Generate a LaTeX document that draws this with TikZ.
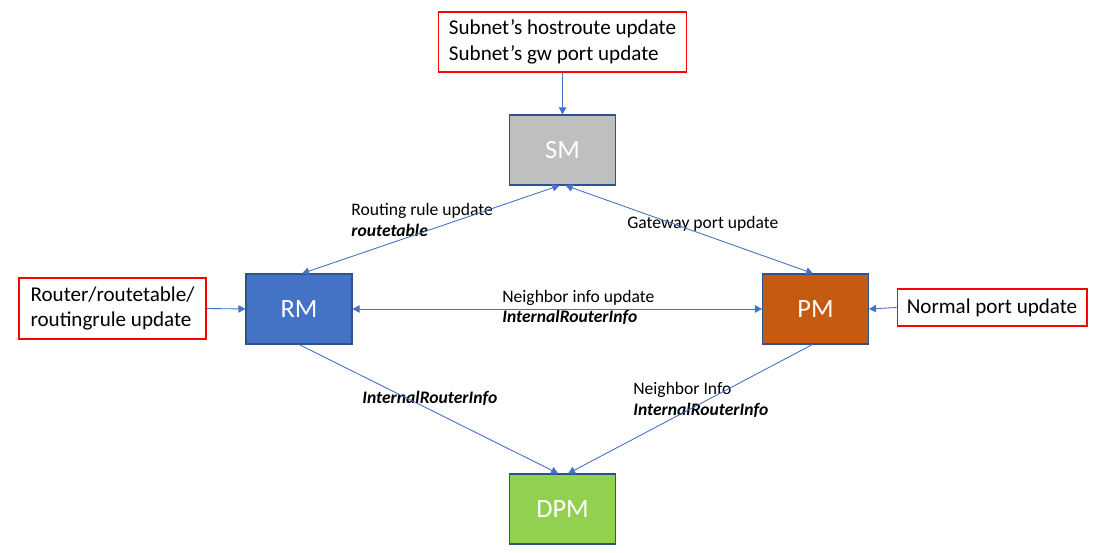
\documentclass[tikz,border=0pt]{standalone}
\usepackage{fontspec}
\setmainfont{Carlito}
\usetikzlibrary{arrows.meta}
\definecolor{flowblue}{HTML}{4472C4}
\definecolor{boxedge}{HTML}{2F528F}
\definecolor{smgray}{HTML}{BFBFBF}
\definecolor{rmblue}{HTML}{4472C4}
\definecolor{pmorange}{HTML}{C55A11}
\definecolor{dpmgreen}{HTML}{92D050}
\definecolor{eventred}{HTML}{FF0000}

\begin{document}
\begin{tikzpicture}[x=0.02cm,y=-0.02cm]
\tikzstyle{manager}=[rectangle, draw=boxedge, line width=.6pt, minimum width=2.12cm, minimum height=1.4cm, text=white, font=\fontsize{15}{16}\selectfont];
\tikzstyle{event}=[rectangle, draw=eventred, line width=.6pt, fill=white, align=left, font=\fontsize{12}{14.4}\selectfont];
\tikzstyle{flow_label}=[inner sep=0, anchor=west, align=left, font=\fontsize{10}{11.5}\selectfont];
\tikzstyle{flow}=[draw, color=flowblue, line width=.5pt, -{Triangle[length=4pt,width=4.2pt]}];
\tikzstyle{flow_both}=[flow, {Triangle[length=4pt,width=4.2pt]}-{Triangle[length=4pt,width=4.2pt]}];
\useasboundingbox (0,0) rectangle (1097,553);
\coordinate (sm_pos) at (562.5,150);
\coordinate (rm_pos) at (299,309);
\coordinate (pm_pos) at (815.5,309);
\coordinate (dpm_pos) at (562.5,509);
\coordinate (subnet_event_pos) at (562.5,42);
\coordinate (router_event_pos) at (112.5,308.5);
\coordinate (port_event_pos) at (992,307.5);
\coordinate (routing_rule_pos) at (351,220);
\coordinate (gateway_port_pos) at (627,224);
\coordinate (neighbor_update_pos) at (502,307.5);
\coordinate (rm_dpm_pos) at (362,398);
\coordinate (pm_dpm_pos) at (633,400);
\node (sm) at (sm_pos) [manager, fill=smgray] {SM};
\node (rm) at (rm_pos) [manager, fill=rmblue] {RM};
\node (pm) at (pm_pos) [manager, fill=pmorange] {PM};
\node (dpm) at (dpm_pos) [manager, fill=dpmgreen] {DPM};
\node (subnet_event) at (subnet_event_pos) [event, minimum width=4.96cm, minimum height=1.2cm] {Subnet’s hostroute update\\Subnet’s gw port update};
\node (router_event) at (router_event_pos) [event, minimum width=3.74cm, minimum height=1.22cm] {Router/routetable/\\routingrule update};
\node (port_event) at (port_event_pos) [event, minimum width=3.8cm, minimum height=.74cm] {Normal port update};
\node (routing_rule_label) at (routing_rule_pos) [flow_label] {Routing rule update\\\textbf{\textit{routetable}}};
\node (gateway_port_label) at (gateway_port_pos) [flow_label] {Gateway port update};
\node (neighbor_update_label) at (neighbor_update_pos) [flow_label] {Neighbor info update\\\textbf{\textit{InternalRouterInfo}}};
\node (rm_dpm_label) at (rm_dpm_pos) [flow_label] {\textbf{\textit{InternalRouterInfo}}};
\node (pm_dpm_label) at (pm_dpm_pos) [flow_label] {Neighbor Info\\\textbf{\textit{InternalRouterInfo}}};
\path (subnet_event.south) -- (sm.north) [flow];
\path (router_event.east) -- (rm.west) [flow];
\path (port_event.west) -- (pm.east) [flow];
\path (rm.85) -- (sm.265) [flow_both];
\path (sm.275) -- (pm.94) [flow_both];
\path (rm.east) -- (pm.west) [flow_both];
\path (rm.south) -- (dpm.97) [flow];
\path (pm.265) -- (dpm.81) [flow];
\end{tikzpicture}
\end{document}
